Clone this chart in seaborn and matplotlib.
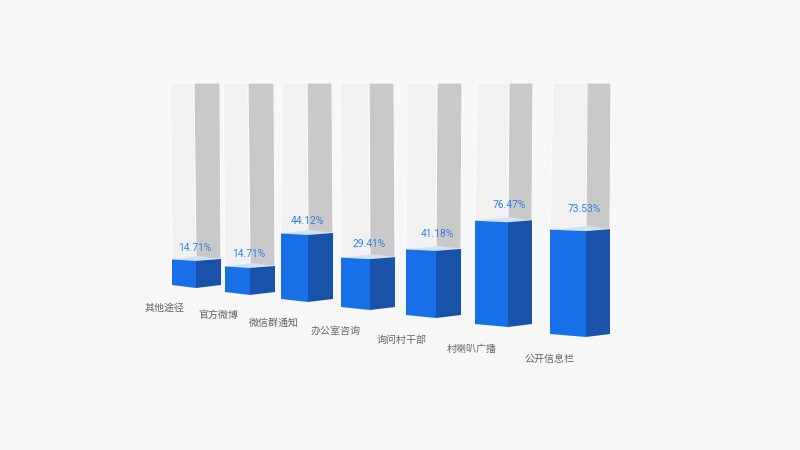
import matplotlib
matplotlib.use('Agg')
import matplotlib.pyplot as plt
import seaborn as sns
import pandas as pd
from matplotlib.patches import Polygon

categories = ['其他途径', '官方微博', '微信群通知', '办公室咨询', '询问村干部', '村喇叭广播', '公开信息栏']
values = [14.71, 14.71, 44.12, 29.41, 41.18, 76.47, 73.53]

# perspective layout, in pixels
col_left = [172, 225, 281, 341, 406, 475, 550]
col_mid = [196, 250, 308, 370, 436, 508, 586]
col_right = [221, 275, 333, 395, 461, 532, 610]
col_base = [288, 295, 302, 310, 318, 327, 337]
px_per_pct = [1.84, 1.84, 1.52, 1.73, 1.63, 1.37, 1.44]
track_left = [170, 223, 282, 340, 407, 477, 553]
track_mid = [194, 248, 307, 369, 437, 509, 587]
track_right = [220, 274, 332, 394, 462, 533, 611]
value_x = [195, 249, 307, 369, 437, 509, 584]
value_gap = [13, 14, 14, 15, 17, 17, 22]
cat_x = [165, 218, 274, 336, 402, 472, 549]
cat_y = [308, 315, 323, 331, 340, 349, 359]
TOP = 83

BG = '#f7f7f7'
FRONT = '#1870e8'
SIDE = '#1853a9'
CAP = '#d3e2f1'
TRACK_FRONT = '#f1f1f1'
TRACK_SIDE = '#c9c9c9'

sns.set_theme(style='white')
plt.rcParams['font.family'] = ['Roboto', 'Noto Sans CJK SC', 'DejaVu Sans']

fig = plt.figure(figsize=(8, 4.5), dpi=100, facecolor=BG)

for i in range(len(values)):
    span = col_right[i] - col_left[i]
    ax = fig.add_axes([col_left[i] / 800, 1 - col_base[i] / 450,
                       span / 800, (col_base[i] - TOP) / 450])
    w = (col_mid[i] - col_left[i]) / span
    df = pd.DataFrame({'cat': [categories[i]], 'val': [values[i]]})
    sns.barplot(data=df, x='cat', y='val', color=FRONT, width=w, saturation=1, ax=ax)
    ax.set_xlim(-w / 2, 1 - w / 2)
    ymax = (col_base[i] - TOP) / px_per_pct[i]
    ax.set_ylim(0, ymax)
    ax.axis('off')

    # turn the flat seaborn bar into a prism
    bar = ax.patches[0]
    x0 = bar.get_x()
    x1 = x0 + bar.get_width()
    x2 = 1 - w / 2
    h = bar.get_height()
    bar.remove()
    px = 1 / px_per_pct[i]
    dx = 1 / span

    # the pale track narrows slightly towards the bar
    t0 = x0 + (track_left[i] - col_left[i]) * dx
    t1 = x0 + (track_mid[i] - col_left[i]) * dx
    t2 = x0 + (track_right[i] - col_left[i]) * dx

    track_f = [(x0, h + 1.5 * px), (x1, h), (t1, ymax), (t0, ymax)]
    track_s = [(x1, h), (x2, h + 2 * px), (t2, ymax), (t1, ymax)]
    front = [(x0, 3 * px), (x1, 0), (x1, h), (x0, h + 1.5 * px)]
    side = [(x1, 0), (x2, 3 * px), (x2, h + 2 * px), (x1, h)]
    cap = [(x0, h + 1.5 * px), (x1, h), (x2, h + 2 * px), (x1 + 2 * dx, h + 5 * px)]

    ax.add_patch(Polygon(track_f, fc=TRACK_FRONT, ec='#fbfbfb', lw=1, clip_on=False))
    ax.add_patch(Polygon(track_s, fc=TRACK_SIDE, ec='#fbfbfb', lw=0.8, clip_on=False))
    ax.add_patch(Polygon(cap, fc=CAP, ec='none', clip_on=False))
    ax.add_patch(Polygon(front, fc=FRONT, ec='none', clip_on=False))
    ax.add_patch(Polygon(side, fc=SIDE, ec='none', clip_on=False))

    ax.text(x0 + (value_x[i] - col_left[i]) * dx, h + value_gap[i] * px,
            f'{values[i]:.2f}%', color='#2f80e6', fontsize=7.4, ha='center', va='center')
    fig.text(cat_x[i] / 800, 1 - cat_y[i] / 450, categories[i], color='#666666',
             fontsize=7.2, ha='center', va='center')

fig.savefig('out.png', dpi=100, facecolor=BG)
plt.close(fig)
